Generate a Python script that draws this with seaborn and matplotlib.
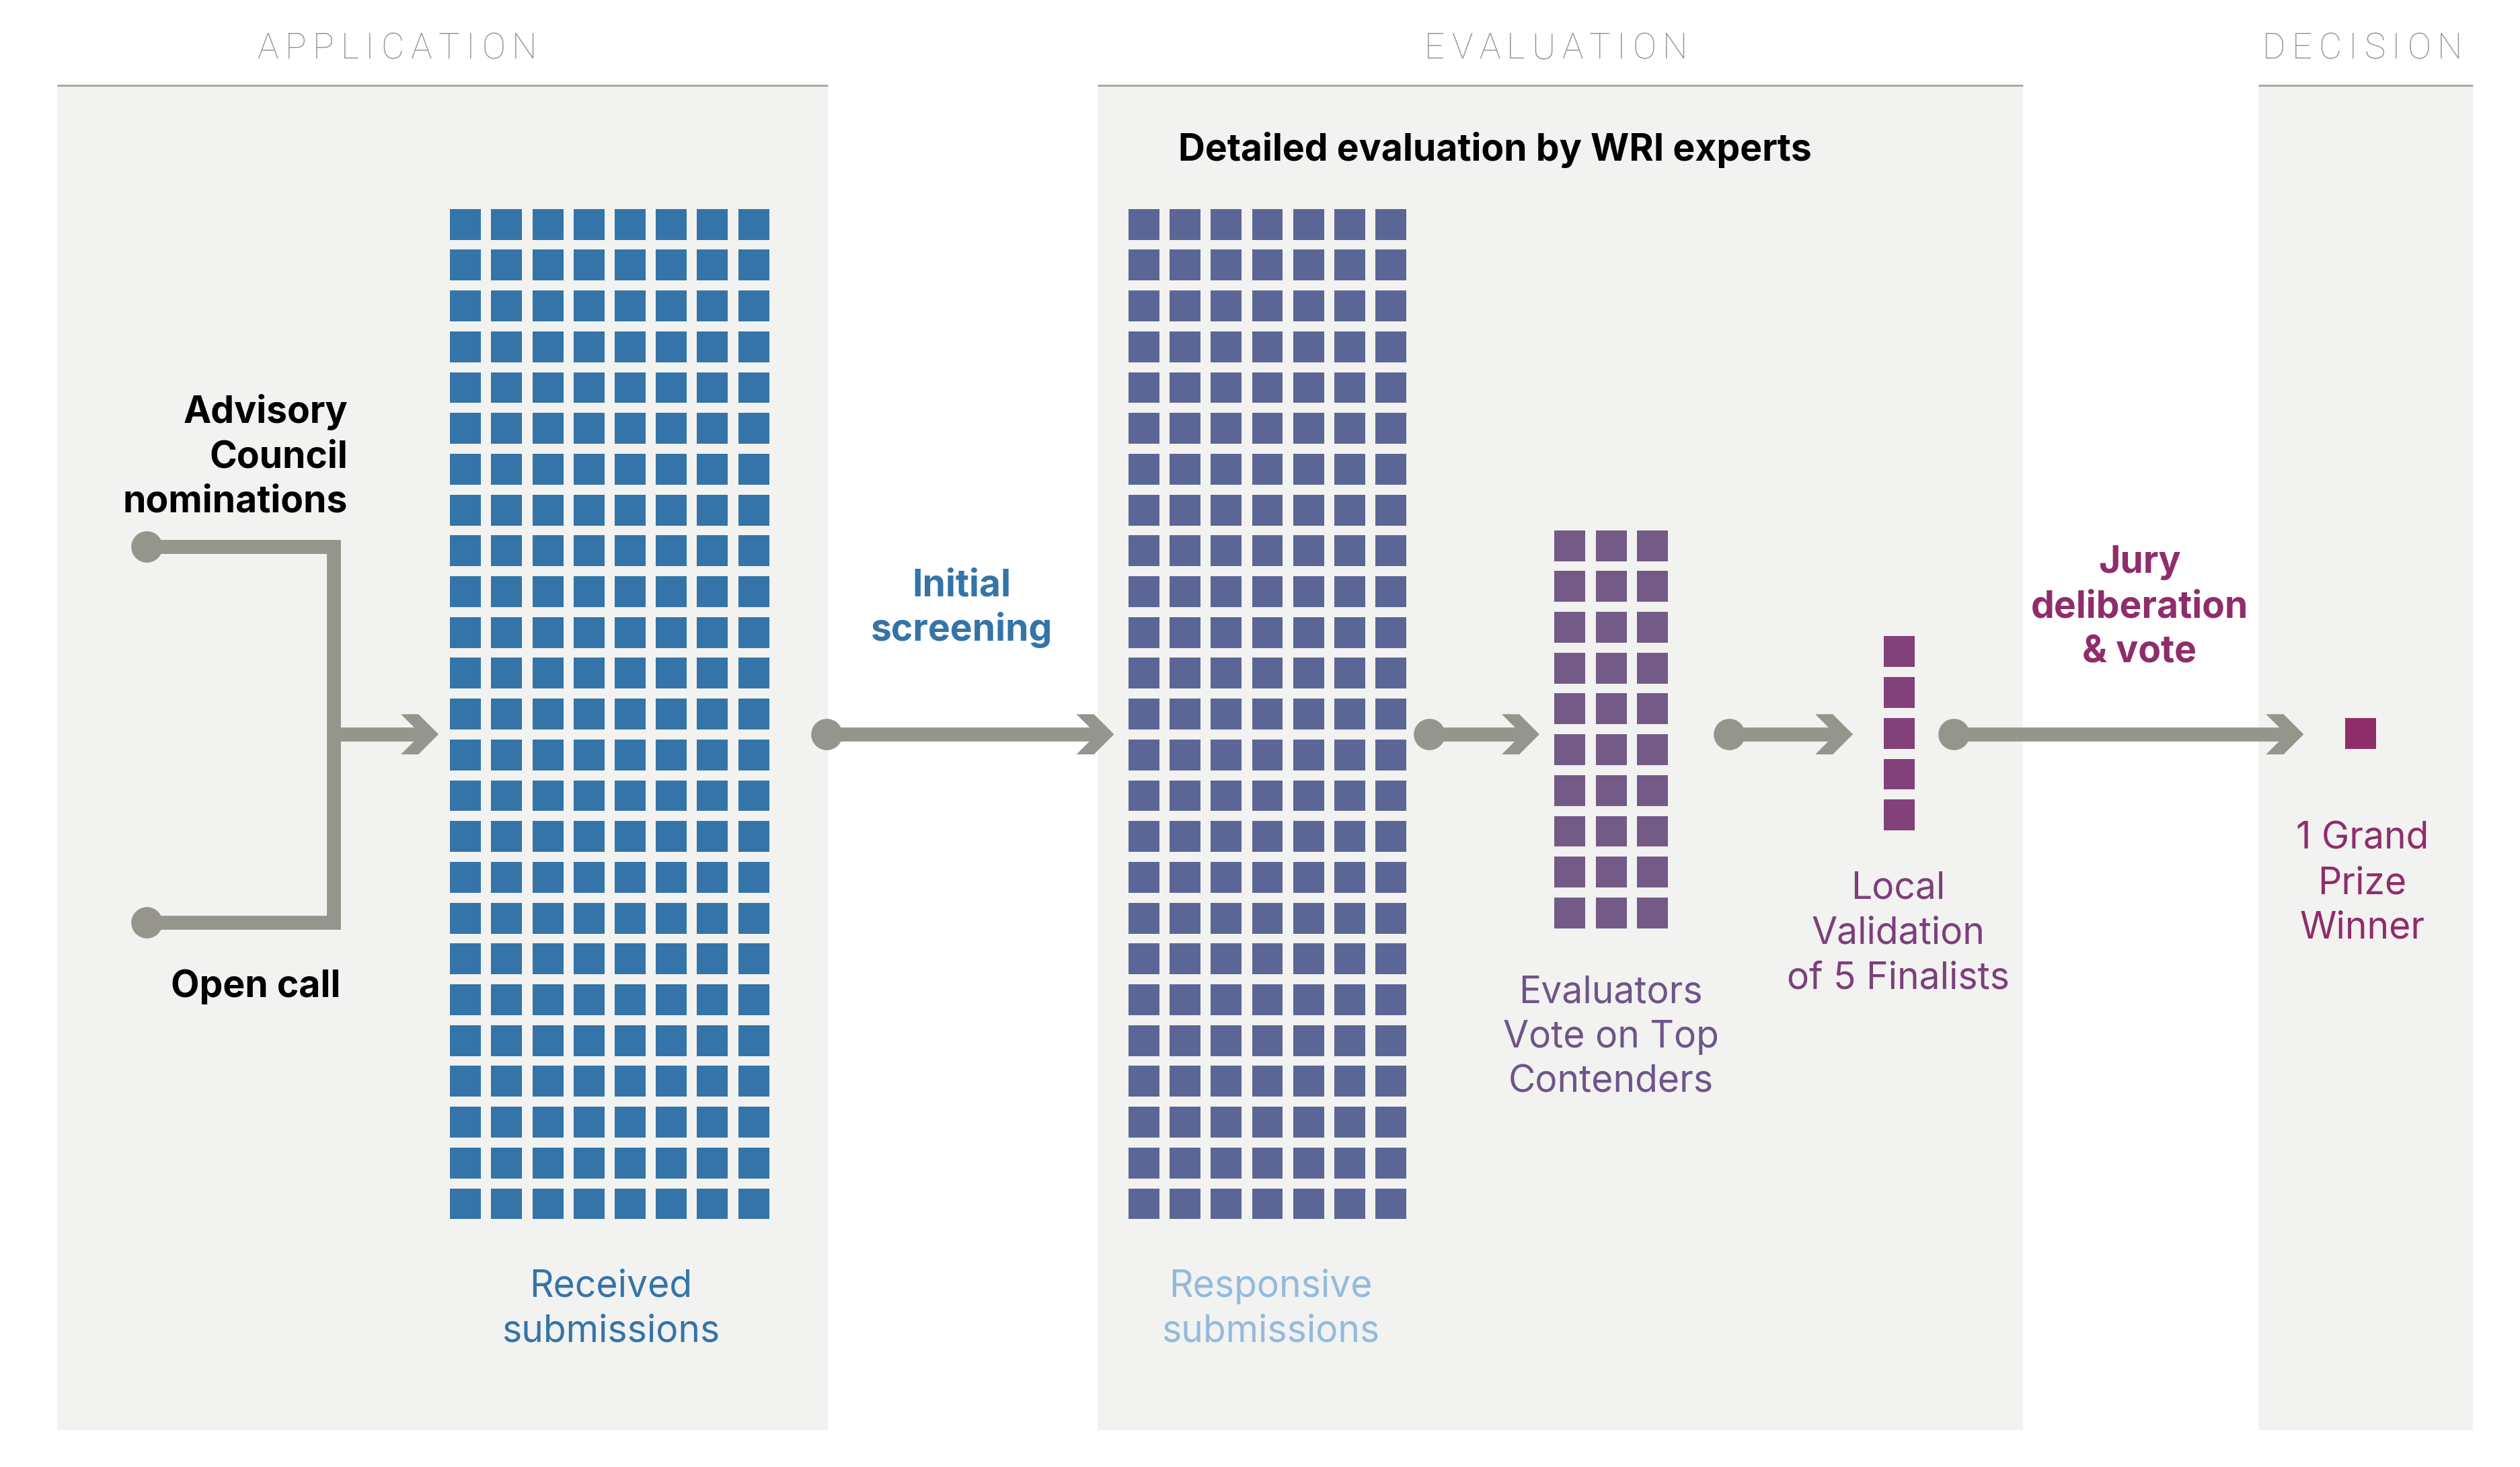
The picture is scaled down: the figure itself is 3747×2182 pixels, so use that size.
import numpy as np
import pandas as pd
import matplotlib
matplotlib.use("Agg")
import matplotlib.pyplot as plt
import seaborn as sns
from matplotlib.patches import Rectangle, Polygon

# ---------------- data ----------------
stage_names = ["Received submissions", "Responsive submissions",
               "Evaluators vote on top contenders", "Local validation of finalists",
               "Grand prize winner"]
stage_counts = [200, 175, 30, 5, 1]
stage_columns = [8, 7, 3, 1, 1]
stage_colors = ["#3474A8", "#5C6696", "#735A87", "#83417A", "#8F2D6B"]

phase_titles = ["APPLICATION", "EVALUATION", "DECISION"]

label_received = ["Received", "submissions"]
label_responsive = ["Responsive", "submissions"]
label_evaluators = ["Evaluators", "Vote on Top", "Contenders"]
label_local = ["Local", "Validation", "of 5 Finalists"]
label_winner = ["1 Grand", "Prize", "Winner"]
label_advisory = ["Advisory", "Council", "nominations"]
label_open = ["Open call"]
label_screening = ["Initial", "screening"]
label_jury = ["Jury", "deliberation", "& vote"]
label_detailed = ["Detailed evaluation by WRI experts"]

# ---------------- layout ----------------
W, H = 1568, 913                  # layout units
SC = 3748 / W                     # pixels per unit
DPI = 100
PT = SC * 72 / DPI                # points per unit

FAM = ["Inter", "Roboto", "DejaVu Sans"]
HFAM = ["Roboto", "DejaVu Sans"]
FS = 39.8
HFS = 38
LP = 27.9                         # line pitch (units)
GRAY = "#95958B"
PANEL = "#F2F2F0"

group_x0 = [289.6, 711.6, 976.6, 1181.4, 1468.6]
group_y0 = [139.6, 139.6, 339.6, 405.6, 456.6]
PX, PY = 25.6, 25.4
SQ = 19.2

panel_spans = [(35.4, 515.1), (682.6, 1258.5), (1404.7, 1538.2)]
panel_top, panel_bottom = 53, 890
title_x = [247, 968, 1469.5]

fig = plt.figure(figsize=(3748 / DPI, 2182 / DPI), dpi=DPI)
ax = fig.add_axes([0, 0, 1, 1])
ax.set_xlim(0, W)
ax.set_ylim(H, 0)
ax.axis("off")
fig.patch.set_facecolor("white")

# panels
for (x0, x1) in panel_spans:
    ax.add_patch(Rectangle((x0, panel_top), x1 - x0, panel_bottom - panel_top,
                           facecolor=PANEL, edgecolor="none", zorder=0))
    ax.plot([x0, x1], [panel_top, panel_top], color="#A3A39B", lw=2.0,
            solid_capstyle="butt", zorder=1)

# squares (waffle)
rows = []
for name, n, c, gx, gy in zip(stage_names, stage_counts, stage_columns, group_x0, group_y0):
    for k in range(n):
        rows.append({"stage": name, "x": gx + (k % c) * PX, "y": gy + (k // c) * PY})
df = pd.DataFrame(rows)
sns.scatterplot(data=df, x="x", y="y", hue="stage", hue_order=stage_names,
                palette=dict(zip(stage_names, stage_colors)), marker="s",
                s=(SQ * PT) ** 2, linewidth=0, edgecolor="none", legend=False,
                ax=ax, zorder=3)
ax.set_xlim(0, W)
ax.set_ylim(H, 0)
ax.axis("off")

# connectors
LW = 8.7 * PT
DOT = 19.5 * PT
YA = 457.0


def chevron(T, y):
    h, b = 12.5, 10.9
    pts = [(T, y), (T - h, y - h), (T - h - b, y - h), (T - b, y),
           (T - h - b, y + h), (T - h, y + h)]
    ax.add_patch(Polygon(pts, closed=True, facecolor=GRAY, edgecolor="none", zorder=2))


# bracket from the two sources
ax.plot([91, 207.3, 207.3, 91], [340, 340, 574, 574], color=GRAY, lw=LW,
        solid_joinstyle="miter", solid_capstyle="butt", zorder=2)
ax.plot([91, 91], [340, 574], ls="none", marker="o", ms=DOT, color=GRAY, mew=0, zorder=2)
ax.plot([207.3, 272.8 - 6], [YA, YA], color=GRAY, lw=LW, solid_capstyle="butt", zorder=2)
chevron(272.8, YA)

arrows = [(514, 693), (889, 957.6), (1075.5, 1152.6), (1215.4, 1433)]
for s, t in arrows:
    ax.plot([s, t - 6], [YA, YA], color=GRAY, lw=LW, solid_capstyle="butt", zorder=2)
    ax.plot([s], [YA], ls="none", marker="o", ms=DOT, color=GRAY, mew=0, zorder=2)
    chevron(t, YA)


# text blocks
def block(x, y0, lines, color, weight="normal", ha="center"):
    for k, s in enumerate(lines):
        ax.text(x, y0 + k * LP, s, ha=ha, va="baseline", color=color,
                fontsize=FS, fontweight=weight, family=FAM, zorder=4)


block(216.3, 263, label_advisory, "black", "bold", "right")
block(211.7, 620.5, label_open, "black", "bold", "right")
block(598.3, 371, label_screening, "#3474A8", "bold")
block(930, 100, label_detailed, "black", "bold")
block(380, 807, label_received, "#3474A8")
block(790.5, 807, label_responsive, "#93BADE")
block(1002, 624, label_evaluators, "#6F5589")
block(1180.8, 559.4, label_local, "#7D3F7C")
block(1331, 356.5, label_jury, "#8F2D6B", "bold")
block(1469.5, 528.3, label_winner, "#8F2D6B")

# phase titles with letter spacing
renderer = fig.canvas.get_renderer()


def char_widths(text):
    ws = []
    for ch in text:
        t = ax.text(0, 0, ch, fontsize=HFS, fontweight="light", family=HFAM)
        ws.append(t.get_window_extent(renderer).width / SC)
        t.remove()
    return ws


w_app = char_widths(phase_titles[0])
track = (174 - sum(w_app)) / (len(phase_titles[0]) - 1)
for title, xc in zip(phase_titles, title_x):
    ws = char_widths(title)
    total = sum(ws) + track * (len(title) - 1)
    x = xc - total / 2
    for ch, w in zip(title, ws):
        ax.text(x, 36.5, ch, ha="left", va="baseline", color="#8F9087",
                fontsize=HFS, fontweight="light", family=HFAM, zorder=4)
        x += w + track

fig.savefig("out.png", dpi=DPI, facecolor="white")
